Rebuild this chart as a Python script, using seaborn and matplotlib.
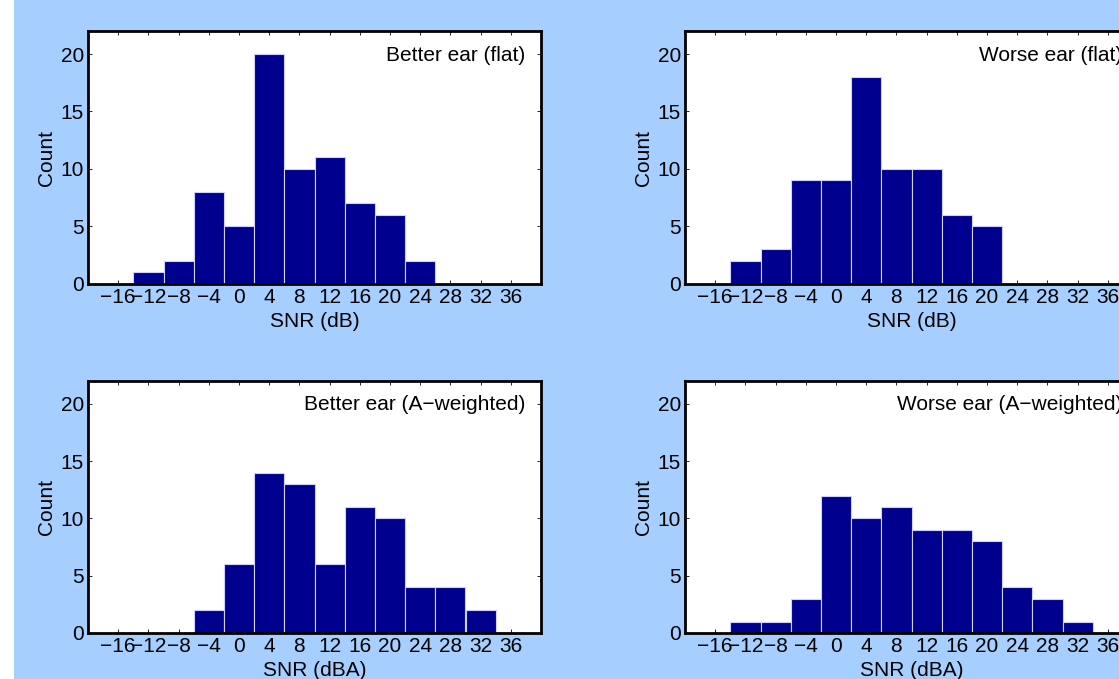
import numpy as np
import pandas as pd
import matplotlib
matplotlib.use('Agg')
import matplotlib.pyplot as plt
from matplotlib.patches import Rectangle
import seaborn as sns

# Histogram bin centres (dB) and counts
bin_centres = [-16, -12, -8, -4, 0, 4, 8, 12, 16, 20, 24, 28, 32, 36]
better_flat = [0, 1, 2, 8, 5, 20, 10, 11, 7, 6, 2, 0, 0, 0]
worse_flat = [0, 2, 3, 9, 9, 18, 10, 10, 6, 5, 0, 0, 0, 0]
better_aw = [0, 0, 0, 2, 6, 14, 13, 6, 11, 10, 4, 4, 2, 0]
worse_aw = [0, 1, 1, 3, 12, 10, 11, 9, 9, 8, 4, 3, 1, 0]

panel_titles = ['Better ear (flat)', 'Worse ear (flat)',
                'Better ear (A\u2212weighted)', 'Worse ear (A\u2212weighted)']
x_labels = ['SNR (dB)', 'SNR (dB)', 'SNR (dBA)', 'SNR (dBA)']
panel_counts = [better_flat, worse_flat, better_aw, worse_aw]

sns.set_style('ticks')
plt.rcParams['font.family'] = ['Liberation Sans', 'DejaVu Sans']
plt.rcParams['text.color'] = 'black'
plt.rcParams['axes.labelcolor'] = 'black'
fs = 15

bg = '#a6cfff'
bar_color = '#00008f'

W, H = 1119, 679
fig = plt.figure(figsize=(W / 100, H / 100), dpi=100, facecolor=bg)

# white strip on the left edge
fig.patches.append(Rectangle((0, 0), 14 / W, 1, transform=fig.transFigure,
                             facecolor='white', edgecolor='none', zorder=0))

# axes boxes in pixels: left, top, right, bottom
boxes = [(88, 31, 541, 284), (685, 31, 1138, 284),
         (88, 381, 541, 633), (685, 381, 1138, 633)]

edges = [c - 2 for c in bin_centres] + [bin_centres[-1] + 2]

for (l, t, r, b), counts, title, xl in zip(boxes, panel_counts, panel_titles, x_labels):
    ax = fig.add_axes([l / W, (H - b) / H, (r - l) / W, (b - t) / H])
    df = pd.DataFrame({'snr': bin_centres, 'n': counts})
    sns.histplot(data=df, x='snr', weights='n', bins=edges, ax=ax,
                 color=bar_color, edgecolor='#d0d0ff', linewidth=0.8,
                 alpha=1, stat='count')
    ax.set_facecolor('white')
    ax.set_xlim(-20, 40)
    ax.set_ylim(0, 22)
    ax.set_xticks(bin_centres)
    ax.set_yticks([0, 5, 10, 15, 20])
    ax.tick_params(direction='in', length=3, width=0.6, top=True, right=True,
                   labelsize=fs, colors='black')
    ax.tick_params(axis='x', pad=3)
    ax.tick_params(axis='y', pad=3)
    for s in ax.spines.values():
        s.set_linewidth(2)
        s.set_color('black')
        s.set_visible(True)
    ax.set_xlabel(xl, fontsize=fs, labelpad=3.5)
    ax.set_ylabel('Count', fontsize=fs, labelpad=3.5)
    ax.text(0.965, 0.905, title, transform=ax.transAxes, ha='right', va='center',
            fontsize=fs)

plt.savefig('out.png', dpi=100, facecolor=fig.get_facecolor())
